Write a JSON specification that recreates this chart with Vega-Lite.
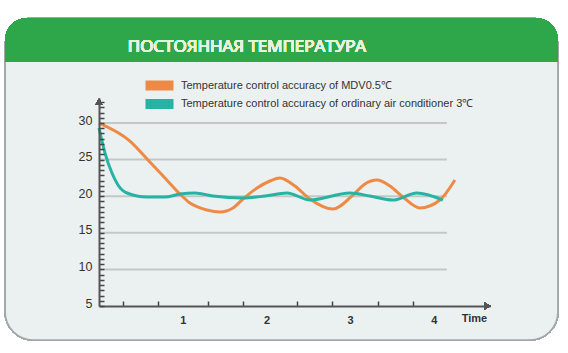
{
  "$schema": "https://vega.github.io/schema/vega-lite/v6.json",
  "width": 391,
  "height": 208,
  "autosize": {"type": "none"},
  "padding": {"left": 99, "top": 98, "right": 78, "bottom": 47},
  "background": "#ffffff",
  "config": {"view": {"stroke": null}, "font": "Liberation Sans"},
  "resolve": {"axis": {"x": "independent", "y": "independent"}},
  "datasets": {
    "curves": [
      {"series": "Temperature control accuracy of MDV0.5℃", "t": 0, "temp": 30},
      {"series": "Temperature control accuracy of MDV0.5℃", "t": 0.37, "temp": 27.54},
      {"series": "Temperature control accuracy of MDV0.5℃", "t": 0.585, "temp": 24.95},
      {"series": "Temperature control accuracy of MDV0.5℃", "t": 0.788, "temp": 22.49},
      {"series": "Temperature control accuracy of MDV0.5℃", "t": 0.967, "temp": 20.3},
      {"series": "Temperature control accuracy of MDV0.5℃", "t": 1.087, "temp": 19.07},
      {"series": "Temperature control accuracy of MDV0.5℃", "t": 1.29, "temp": 18.11},
      {"series": "Temperature control accuracy of MDV0.5℃", "t": 1.445, "temp": 17.84},
      {"series": "Temperature control accuracy of MDV0.5℃", "t": 1.6, "temp": 18.39},
      {"series": "Temperature control accuracy of MDV0.5℃", "t": 1.719, "temp": 19.62},
      {"series": "Temperature control accuracy of MDV0.5℃", "t": 1.887, "temp": 21.12},
      {"series": "Temperature control accuracy of MDV0.5℃", "t": 2.042, "temp": 22.08},
      {"series": "Temperature control accuracy of MDV0.5℃", "t": 2.161, "temp": 22.49},
      {"series": "Temperature control accuracy of MDV0.5℃", "t": 2.34, "temp": 21.39},
      {"series": "Temperature control accuracy of MDV0.5℃", "t": 2.519, "temp": 19.62},
      {"series": "Temperature control accuracy of MDV0.5℃", "t": 2.794, "temp": 18.25},
      {"series": "Temperature control accuracy of MDV0.5℃", "t": 3.033, "temp": 20.16},
      {"series": "Temperature control accuracy of MDV0.5℃", "t": 3.176, "temp": 21.67},
      {"series": "Temperature control accuracy of MDV0.5℃", "t": 3.319, "temp": 22.21},
      {"series": "Temperature control accuracy of MDV0.5℃", "t": 3.475, "temp": 21.39},
      {"series": "Temperature control accuracy of MDV0.5℃", "t": 3.63, "temp": 19.89},
      {"series": "Temperature control accuracy of MDV0.5℃", "t": 3.833, "temp": 18.39},
      {"series": "Temperature control accuracy of MDV0.5℃", "t": 4.072, "temp": 19.48},
      {"series": "Temperature control accuracy of MDV0.5℃", "t": 4.251, "temp": 22.21},
      {"series": "Temperature control accuracy of  ordinary air conditioner 3℃", "t": 0, "temp": 29.32},
      {"series": "Temperature control accuracy of  ordinary air conditioner 3℃", "t": 0.072, "temp": 25.9},
      {"series": "Temperature control accuracy of  ordinary air conditioner 3℃", "t": 0.155, "temp": 23.17},
      {"series": "Temperature control accuracy of  ordinary air conditioner 3℃", "t": 0.227, "temp": 21.53},
      {"series": "Temperature control accuracy of  ordinary air conditioner 3℃", "t": 0.334, "temp": 20.44},
      {"series": "Temperature control accuracy of  ordinary air conditioner 3℃", "t": 0.573, "temp": 19.89},
      {"series": "Temperature control accuracy of  ordinary air conditioner 3℃", "t": 0.788, "temp": 19.89},
      {"series": "Temperature control accuracy of  ordinary air conditioner 3℃", "t": 0.967, "temp": 20.3},
      {"series": "Temperature control accuracy of  ordinary air conditioner 3℃", "t": 1.146, "temp": 20.44},
      {"series": "Temperature control accuracy of  ordinary air conditioner 3℃", "t": 1.361, "temp": 20.03},
      {"series": "Temperature control accuracy of  ordinary air conditioner 3℃", "t": 1.719, "temp": 19.75},
      {"series": "Temperature control accuracy of  ordinary air conditioner 3℃", "t": 1.982, "temp": 20.03},
      {"series": "Temperature control accuracy of  ordinary air conditioner 3℃", "t": 2.245, "temp": 20.44},
      {"series": "Temperature control accuracy of  ordinary air conditioner 3℃", "t": 2.519, "temp": 19.48},
      {"series": "Temperature control accuracy of  ordinary air conditioner 3℃", "t": 2.997, "temp": 20.44},
      {"series": "Temperature control accuracy of  ordinary air conditioner 3℃", "t": 3.236, "temp": 20.03},
      {"series": "Temperature control accuracy of  ordinary air conditioner 3℃", "t": 3.51, "temp": 19.48},
      {"series": "Temperature control accuracy of  ordinary air conditioner 3℃", "t": 3.797, "temp": 20.44},
      {"series": "Temperature control accuracy of  ordinary air conditioner 3℃", "t": 4.107, "temp": 19.48}
    ],
    "grid": [{"level": 10}, {"level": 15}, {"level": 20}, {"level": 25}, {"level": 30}]
  },
  "data": {"name": "curves"},
  "layer": [
    {
      "mark": {"type": "rect", "fill": "#ebf1f1", "stroke": "#a3a8a8", "strokeWidth": 1.5, "cornerRadius": 28},
      "encoding": {
        "x": {"datum": -1.12, "type": "quantitative", "scale": {"domain": [0, 4.67], "nice": false, "zero": false}, "axis": null},
        "x2": {"datum": 5.48},
        "y": {"datum": 44.34, "type": "quantitative", "scale": {"domain": [5, 33.42], "nice": false, "zero": false}, "axis": null},
        "y2": {"datum": 0.36}
      }
    },
    {
      "mark": {"type": "rect", "fill": "#2ea64a", "cornerRadiusTopLeft": 28, "cornerRadiusTopRight": 28},
      "encoding": {
        "x": {"datum": -1.12, "type": "quantitative", "scale": {"domain": [0, 4.67], "nice": false, "zero": false}, "axis": null},
        "x2": {"datum": 5.48},
        "y": {"datum": 44.34, "type": "quantitative", "scale": {"domain": [5, 33.42], "nice": false, "zero": false}, "axis": null},
        "y2": {"datum": 38.33}
      }
    },
    {
      "mark": {"type": "text", "text": "ПОСТОЯННАЯ ТЕМПЕРАТУРА", "font": "Open Sans", "fontSize": 17, "color": "#e6f4de", "align": "center", "baseline": "middle"},
      "encoding": {
        "x": {"datum": 1.767, "type": "quantitative", "scale": {"domain": [0, 4.67], "nice": false, "zero": false}, "axis": null},
        "y": {"datum": 40.38, "type": "quantitative", "scale": {"domain": [5, 33.42], "nice": false, "zero": false}, "axis": null}
      }
    },
    {
      "data": {"name": "grid"},
      "mark": {"type": "rule", "color": "#c3c7c7", "strokeWidth": 2},
      "encoding": {
        "x": {"datum": 0, "type": "quantitative", "scale": {"domain": [0, 4.67], "nice": false, "zero": false}, "axis": null},
        "x2": {"datum": 4.155},
        "y": {"field": "level", "type": "quantitative", "scale": {"domain": [5, 33.42], "nice": false, "zero": false}, "axis": null}
      }
    },
    {
      "mark": {"type": "line", "interpolate": "monotone", "strokeWidth": 3},
      "encoding": {
        "x": {
          "field": "t", "type": "quantitative", "title": "Time",
          "scale": {"domain": [0, 4.67], "nice": false, "zero": false},
          "axis": {
            "values": [0.29, 0.7, 1, 1.3, 1.72, 2, 2.36, 2.78, 3, 3.33, 3.75, 4],
            "labelExpr": "datum.value % 1 == 0 ? format(datum.value, 'd') : ''",
            "labelOverlap": false,
            "tickSize": -5, "tickWidth": 1.5, "tickColor": "#444",
            "tickOpacity": {"condition": {"test": "datum.value % 1 == 0", "value": 0}, "value": 1},
            "domainColor": "#555", "domainWidth": 2,
            "labelFontWeight": "bold", "labelFontSize": 11, "labelColor": "#333", "labelPadding": 13,
            "grid": false,
            "titleX": 375, "titleY": 12, "titleAngle": 0, "titleAlign": "center", "titleBaseline": "middle",
            "titleFontWeight": "bold", "titleFontSize": 11, "titleColor": "#333",
            "zindex": 1
          }
        },
        "y": {
          "field": "temp", "type": "quantitative", "title": null,
          "scale": {"domain": [5, 33.42], "nice": false, "zero": false},
          "axis": {
            "values": [5, 5.71, 6.43, 7.14, 7.86, 8.57, 9.29, 10, 10.71, 11.43, 12.14, 12.86, 13.57, 14.29, 15, 15.71, 16.43, 17.14, 17.86, 18.57, 19.29, 20, 20.71, 21.43, 22.14, 22.86, 23.57, 24.29, 25, 25.71, 26.43, 27.14, 27.86, 28.57, 29.29, 30, 30.71, 31.43, 32.14, 32.86],
            "labelExpr": "datum.value % 5 == 0 ? format(datum.value, 'd') : ''",
            "labelOverlap": false,
            "tickSize": -5, "tickWidth": 1.5, "tickColor": "#444",
            "domainColor": "#555", "domainWidth": 2,
            "labelFontSize": 12.5, "labelColor": "#333", "labelPadding": 12, "labelOffset": -3,
            "grid": false, "zindex": 1
          }
        },
        "color": {
          "field": "series", "type": "nominal",
          "scale": {
            "domain": ["Temperature control accuracy of MDV0.5℃", "Temperature control accuracy of  ordinary air conditioner 3℃"],
            "range": ["#ef8a45", "#26b3a3"]
          },
          "legend": {
            "orient": "none", "legendX": 55, "legendY": -18, "title": null, "padding": 0,
            "symbolType": "M-2.8,-1L2.8,-1L2.8,1L-2.8,1Z", "symbolSize": 100, "symbolStrokeWidth": 0,
            "labelFontSize": 11, "labelColor": "#333", "labelOffset": 16, "rowPadding": 6.5, "labelLimit": 500,
            "encode": {"symbols": {"update": {"fill": {"scale": "color", "field": "value"}, "strokeWidth": {"value": 0}}}}
          }
        }
      }
    },
    {
      "mark": {"type": "point", "shape": "triangle-up", "filled": true, "color": "#555", "size": 50, "opacity": 1},
      "encoding": {
        "x": {"datum": 0, "type": "quantitative", "scale": {"domain": [0, 4.67], "nice": false, "zero": false}, "axis": null},
        "y": {"datum": 32.9, "type": "quantitative", "scale": {"domain": [5, 33.42], "nice": false, "zero": false}, "axis": null}
      }
    },
    {
      "mark": {"type": "point", "shape": "triangle-right", "filled": true, "color": "#555", "size": 50, "opacity": 1},
      "encoding": {
        "x": {"datum": 4.64, "type": "quantitative", "scale": {"domain": [0, 4.67], "nice": false, "zero": false}, "axis": null},
        "y": {"datum": 5, "type": "quantitative", "scale": {"domain": [5, 33.42], "nice": false, "zero": false}, "axis": null}
      }
    }
  ]
}
